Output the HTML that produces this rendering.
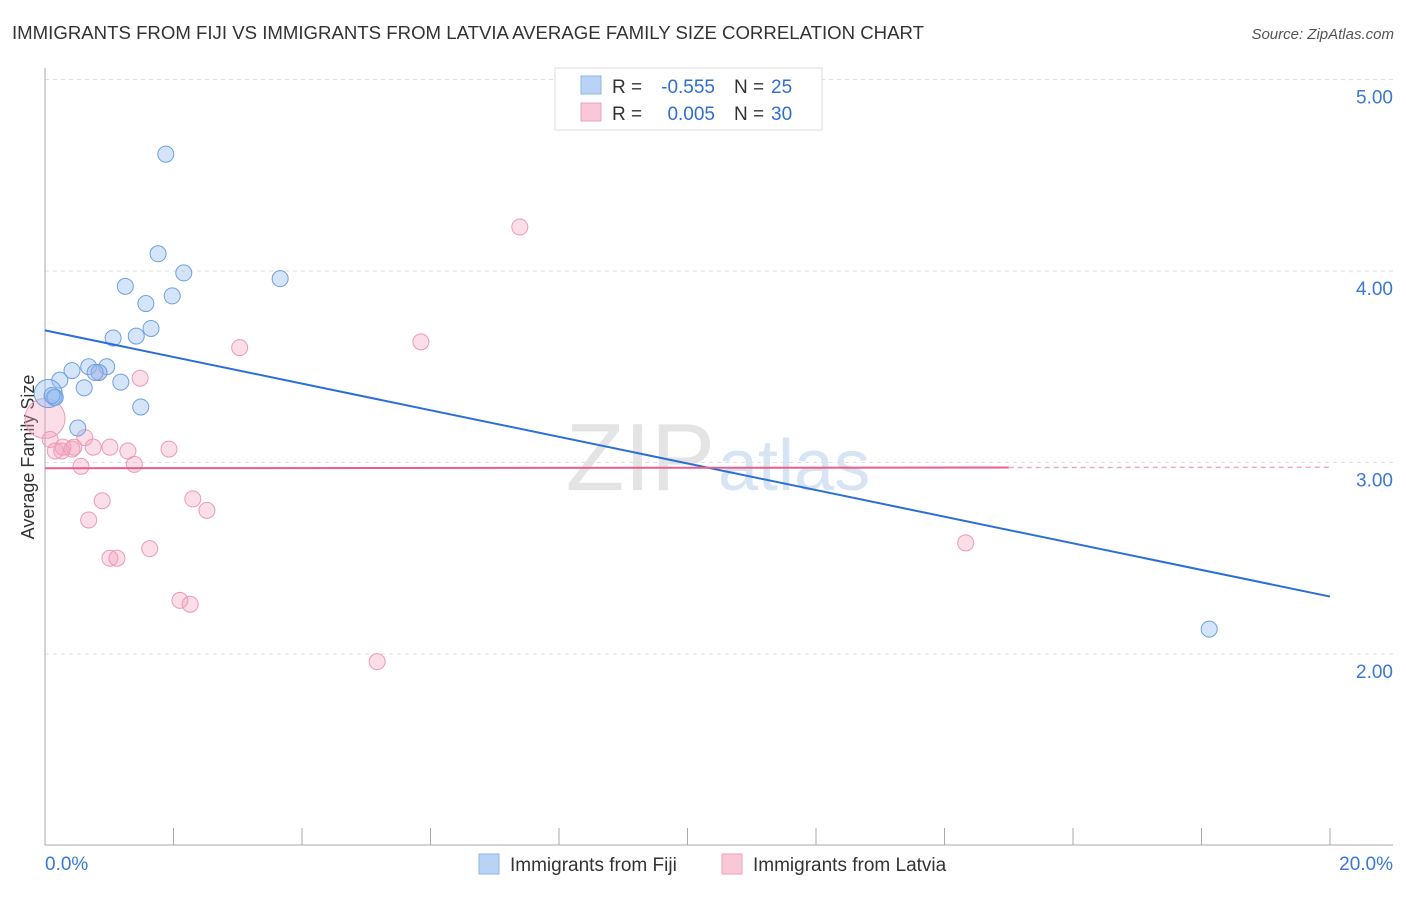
<!DOCTYPE html>
<html><head><meta charset="utf-8"><style>
body{margin:0;background:#fff;font-family:"Liberation Sans",sans-serif;}
svg text{font-family:"Liberation Sans",sans-serif;}
</style></head><body>
<svg id="c" width="1406" height="892">
<text x="12" y="39" font-size="18" fill="#333" textLength="912" lengthAdjust="spacingAndGlyphs">IMMIGRANTS FROM FIJI VS IMMIGRANTS FROM LATVIA AVERAGE FAMILY SIZE CORRELATION CHART</text>
<text x="1394" y="39" font-size="15" fill="#555" font-style="italic" text-anchor="end">Source: ZipAtlas.com</text>
<text x="715" y="490" font-size="96" fill="#e4e4e4" text-anchor="end" font-family="Liberation Serif">ZIP</text>
<text x="718" y="490" font-size="72" fill="#d6e4f4">atlas</text>
<text transform="translate(34,457) rotate(-90)" font-size="18" fill="#333" text-anchor="middle">Average Family Size</text>
<g id="grid"></g><g id="marks"></g>
<g>
<rect x="555" y="68" width="267" height="62" fill="#fff" stroke="#ddd"/>
<rect x="581" y="76" width="20" height="18" fill="#b8d3f5" stroke="#8fb4e6"/>
<rect x="581" y="103" width="20" height="18" fill="#f9c8d6" stroke="#eda0b8"/>
<text x="612" y="93" font-size="19" fill="#333">R =</text>
<text x="715" y="93" font-size="19" fill="#2f6fce" text-anchor="end">-0.555</text>
<text x="734" y="93" font-size="19" fill="#333">N =</text>
<text x="771" y="93" font-size="19" fill="#2f6fce">25</text>
<text x="612" y="120" font-size="19" fill="#333">R =</text>
<text x="715" y="120" font-size="19" fill="#2f6fce" text-anchor="end">0.005</text>
<text x="734" y="120" font-size="19" fill="#333">N =</text>
<text x="771" y="120" font-size="19" fill="#2f6fce">30</text>
</g>
<g>
<rect x="479" y="854" width="20" height="20" fill="#b8d3f5" stroke="#8fb4e6"/>
<text x="510" y="871" font-size="19" fill="#333">Immigrants from Fiji</text>
<rect x="722" y="854" width="20" height="20" fill="#f9c8d6" stroke="#eda0b8"/>
<text x="753" y="871" font-size="19" fill="#333">Immigrants from Latvia</text>
</g>
</svg>
<script>
const yTicks=[2,3,4,5];
const yTickLabels=["2.00","3.00","4.00","5.00"];
const xTickLabels=["0.0%","20.0%"];
const fijiX=[1.88,1.76,2.16,3.66,1.25,1.98,1.57,1.65,1.06,1.42,0.68,0.96,0.42,0.23,0.84,1.18,0.61,0.05,0.14,1.49,0.51,18.12,0.16,0.78,0.11];
const fijiY=[4.61,4.09,3.99,3.96,3.92,3.87,3.83,3.70,3.65,3.66,3.50,3.50,3.48,3.43,3.47,3.42,3.39,3.36,3.34,3.29,3.18,2.13,3.34,3.47,3.35];
const latX=[7.39,5.85,3.03,1.48,0.84,0.0,0.62,0.08,0.28,0.45,0.26,0.16,0.75,1.01,1.29,1.93,0.56,1.39,0.89,2.30,2.52,0.68,1.63,1.01,1.12,2.10,2.26,5.17,14.33,0.42];
const latY=[4.23,3.63,3.60,3.44,3.47,3.23,3.13,3.12,3.08,3.08,3.06,3.06,3.08,3.08,3.06,3.07,2.98,2.99,2.80,2.81,2.75,2.70,2.55,2.50,2.50,2.28,2.26,1.96,2.58,3.07];
const fijiTrend=[3.69,2.30];
const latTrend=[2.97,2.975];
const X=v=>45+v/20*1285;
const Y=v=>79.5+(5-v)*191.5;
const NS="http://www.w3.org/2000/svg";
function mk(t,a,p){const e=document.createElementNS(NS,t);for(const k in a)e.setAttribute(k,a[k]);p.appendChild(e);return e;}
const g=document.getElementById('grid'),m=document.getElementById('marks');
yTicks.forEach((v,i)=>{
const l=mk('line',{x1:45,x2:1393,y1:Y(v),y2:Y(v),stroke:'#ddd','stroke-dasharray':'4,4'},g);


const t=mk('text',{x:1393,y:Y(v)+24,'font-size':19,fill:'#3a78d4','text-anchor':'end'},g);t.textContent=yTickLabels[i];


});
mk('line',{x1:45,x2:45,y1:68,y2:845,stroke:'#aaa'},g);
mk('line',{x1:45,x2:1393,y1:845,y2:845,stroke:'#aaa'},g);
for(let i=0;i<=10;i++){const x=X(i*2);mk('line',{x1:x,x2:x,y1:828,y2:845,stroke:'#aaa'},g);}
const t0=mk('text',{x:45,y:870,'font-size':19,fill:'#3a78d4'},g);t0.textContent=xTickLabels[0];


const t1=mk('text',{x:1393,y:870,'font-size':19,fill:'#3a78d4','text-anchor':'end'},g);t1.textContent=xTickLabels[1];


latX.forEach((v,i)=>{const c=mk('circle',{cx:X(v),cy:Y(latY[i]),r:i==5?20:8,fill:'rgba(244,160,188,0.35)',stroke:'#ec9ab5','stroke-width':1},m);

});
fijiX.forEach((v,i)=>{const c=mk('circle',{cx:X(v),cy:Y(fijiY[i]),r:i==17?14:8,fill:'rgba(150,190,240,0.4)',stroke:'#6fa0e0','stroke-width':1},m);

});
const bl=mk('line',{x1:X(0),y1:Y(fijiTrend[0]),x2:X(20),y2:Y(fijiTrend[1]),stroke:'#2a6fd6','stroke-width':2},m);


const pl=mk('line',{x1:X(0),y1:Y(latTrend[0]),x2:X(15),y2:Y(latTrend[0]+(latTrend[1]-latTrend[0])*0.75),stroke:'#e85f8a','stroke-width':2},m);


const pd=mk('line',{x1:X(15),y1:Y(latTrend[0]+(latTrend[1]-latTrend[0])*0.75),x2:X(20),y2:Y(latTrend[1]),stroke:'#f0a8bf','stroke-width':1.5,'stroke-dasharray':'5,4'},m);


</script>
</body></html>
